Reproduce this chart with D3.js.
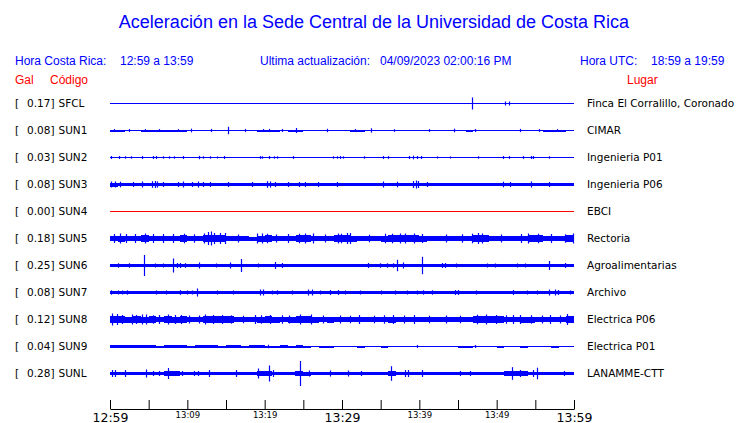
<!DOCTYPE html>
<html><head><meta charset="utf-8">
<script src="https://cdn.jsdelivr.net/npm/d3@7"></script>
<style>body{margin:0;background:#fff}svg{display:block}</style>
</head><body>
<svg id="c" width="740" height="423"></svg>
<script>
// ---------------- data ----------------
const codes = ["SFCL","SUN1","SUN2","SUN3","SUN4","SUN5","SUN6","SUN7","SUN8","SUN9","SUNL"];
const peakGal = [0.17,0.08,0.03,0.08,0.00,0.18,0.25,0.08,0.12,0.04,0.28];
const places = ["Finca El Corralillo, Coronado","CIMAR","Ingenieria P01","Ingenieria P06","EBCI","Rectoria","Agroalimentarias","Archivo","Electrica P06","Electrica P01","LANAMME-CTT"];
const tickMinutes = [0,5,10,15,20,25,30,35,40,45,50,55,60];
const tickLabels = ["12:59","","13:09","","13:19","","13:29","","13:39","","13:49","","13:59"];
const bigTicks = ["12:59","13:29","13:59"];

// envelope half-amplitude per minute (arbitrary units), one value per minute 12:59..13:59
const envSUN1 = [1.0,1.0,0.7,0.8,1.0,1.0,1.0,1.0,1.0,1.0,0.5,0.75,0.8,0.75,0.8,0.5,0.75,0.5,0.7,1.0,1.0,1.0,0.9,1.0,1.0,0.5,0.5,0.75,0.7,0.7,0.5,1.0,1.0,0.9,0.8,0.5,0.7,0.5,0.75,0.9,0.6,0.8,0.9,0.8,0.9,0.5,1.0,0.8,0.5,0.5,0.6,0.5,0.7,0.8,0.9,0.9,1.0,1.0,1.0,0.7];
const envSUN3 = [2.0,1.9,1.6,1.7,1.8,1.9,1.7,1.6,1.7,1.8,1.6,1.7,1.7,1.6,1.7,1.6,1.7,1.6,1.7,1.8,1.8,1.7,1.6,1.7,1.7,1.6,1.7,1.7,1.6,1.7,1.6,1.7,1.6,1.7,1.7,1.8,1.7,1.8,1.7,1.9,1.8,1.7,1.6,1.7,1.6,1.7,1.7,1.6,1.7,1.8,1.7,1.6,1.7,1.7,1.8,1.7,1.7,1.6,1.7,1.8];
const envSUN5 = [2.9,3.0,2.7,2.9,3.2,2.8,2.9,2.7,2.9,3.1,2.8,2.7,3.6,3.8,3.2,2.7,2.5,2.1,2.0,3.0,3.2,2.7,2.4,2.5,3.2,3.4,2.9,2.4,2.6,3.2,3.3,3.0,2.6,2.3,2.4,3.0,3.2,3.3,3.2,3.3,3.0,2.6,2.5,2.6,2.5,2.7,2.9,3.4,3.2,2.6,2.5,2.6,2.5,2.9,3.2,3.2,2.7,2.3,2.4,3.2];
const envSUN6 = [1.6,1.5,1.5,1.4,1.6,1.5,1.4,1.5,1.6,1.5,1.5,1.6,1.5,1.4,1.5,1.5,1.4,1.5,1.5,1.4,1.5,1.6,1.5,1.4,1.5,1.4,1.5,1.5,1.4,1.5,1.5,1.4,1.5,1.6,1.7,1.6,1.5,1.6,1.5,1.4,1.5,1.6,1.5,1.6,1.5,1.4,1.5,1.5,1.4,1.5,1.5,1.4,1.5,1.5,1.6,1.5,1.6,1.6,1.5,1.6];
const envSUN7 = [1.6,1.5,1.6,1.5,1.4,1.5,1.5,1.6,1.5,1.6,1.5,1.5,1.4,1.5,1.5,1.4,1.5,1.4,1.5,1.6,1.6,1.5,1.4,1.5,1.4,1.6,1.6,1.5,1.5,1.6,1.5,1.4,1.5,1.4,1.5,1.5,1.4,1.5,1.5,1.4,1.6,1.6,1.5,1.4,1.6,1.6,1.5,1.5,1.4,1.5,1.5,1.4,1.6,1.5,1.5,1.5,1.6,1.6,1.5,1.5];
const envSUN8 = [3.9,3.7,3.0,3.3,3.0,3.2,2.9,3.1,3.0,3.3,2.8,2.7,3.3,3.4,3.1,3.3,2.7,2.5,2.8,3.0,3.1,3.0,2.9,3.0,3.2,3.4,3.0,2.8,3.0,2.8,2.7,2.6,2.7,2.7,2.6,2.9,3.0,2.8,2.9,2.7,2.7,2.8,2.7,2.7,2.8,2.7,2.9,3.4,3.5,3.3,3.2,2.9,2.8,3.0,3.0,2.9,2.8,2.7,2.8,3.5];
const envSUN9 = [1.2,1.2,1.1,1.1,1.2,1.1,1.0,1.1,1.2,1.1,1.0,1.1,1.1,1.2,1.0,1.1,1.1,1.0,1.1,1.1,1.0,1.0,1.1,1.0,1.1,1.0,0.9,1.0,1.0,0.9,0.8,0.9,1.0,0.8,0.9,1.0,0.8,0.9,0.8,0.9,0.8,0.7,0.9,0.8,0.9,1.0,1.0,0.8,0.7,0.9,1.0,0.8,0.7,1.0,0.9,0.7,0.9,1.0,0.7,0.8];
const envSUNL = [1.8,1.7,1.8,1.7,1.8,1.7,1.8,2.4,2.3,1.8,1.7,1.8,1.8,1.7,1.7,1.8,1.7,1.7,1.8,2.2,2.1,1.8,1.7,1.8,2.2,2.0,1.7,1.8,1.7,1.8,1.7,1.8,1.7,1.7,1.8,1.8,2.2,1.8,1.7,1.8,1.7,1.8,1.7,1.7,1.8,1.8,1.8,1.7,1.7,1.8,1.7,2.2,2.3,2.1,1.8,1.8,1.7,1.7,1.8,1.8];

// spikes: [minute, half-amplitude]
const spkSFCL = [[46.8,6],[51.1,2],[51.6,2]];
const spkSUN1 = [[15.2,3.7],[24.1,2.5],[33.8,2.2],[10.5,1.8],[17.5,1.6],[13,1.6],[28,1.7],[44.5,1.8],[53,1.6],[2.5,1.5],[20.5,1.6],[0.5,1.5],[4.5,1.5],[6.3,1.4],[8.8,1.4],[19.8,1.5],[22.2,1.5],[31.7,1.5],[36.7,1.3],[41.2,1.4],[47.2,1.5],[55.5,1.4],[57.8,1.4]];
const spkSUN2 = [[0.1,1.5],[1.2,1.5],[1.9,1.2],[2.7,1.2],[4.1,1.5],[5.6,1.5],[5.9,1.5],[6.9,1.2],[7.6,1.2],[8.3,1.2],[9.4,1.5],[11.5,1.7],[12,1.2],[12.9,1.2],[13.8,1],[14.7,1.5],[19.4,1.4],[19.7,1.2],[20.6,1.5],[21.2,1.2],[21.6,1.2],[23.7,1.4],[28.8,1.2],[29.4,1.2],[29.7,1.4],[30.1,1.2],[32.8,1.2],[35.3,1.5],[35.9,1.4],[38.6,1.5],[39.2,1.8],[39.7,1.5],[40.2,1.5],[42.3,1],[44,1],[47.6,1.2],[50.8,1.5],[51.6,1.4],[53.4,1.4],[54.4,1.5],[54.7,1.5],[56.8,1.2]];
const spkSUN3 = [[0.1,3],[0.6,3],[1.3,2.8],[3,2.5],[4.1,3],[5.4,3.3],[5.8,3.5],[6.1,3],[6.9,2.5],[8.8,2.5],[9.4,3],[10.6,2.5],[11.4,3],[12,2.5],[12.9,2.5],[15.3,2.5],[18.4,2.5],[20.3,3.3],[20.7,3],[21.3,2.5],[23,2.5],[24.4,2.5],[25.2,2.5],[26.9,2.5],[29.4,2.5],[35.3,3],[37.1,2.8],[39.2,3.5],[39.6,4],[39.8,3.5],[41,2.5],[50.8,2.8],[51.7,2.5],[54.4,3],[56.8,2.5]];
const spkSUN4 = [];
const spkSUN5 = [[1.3,5],[2.1,4.5],[4.5,5],[12.7,6.5],[13.1,7],[13.4,5.5],[14.9,5.5],[19,5],[19.7,5],[23,4.5],[25.2,5],[26.3,5],[29.5,5],[30.6,5.5],[31,5.5],[37.5,5],[39.3,5],[47.6,5.5],[48.1,5],[54.1,5],[57,4.5],[59.9,5],[0.5,4.5],[3.2,4.5],[5.5,4.5],[6.8,4.5],[8.2,4.5],[9.6,4.8],[10.8,4.2],[12.2,5],[14.2,5.5],[16.5,4],[20.3,4.8],[21.5,4],[24.4,4.8],[27.8,4],[29.9,4.8],[33.5,3.8],[35.5,4.8],[36.5,4.8],[38.2,5],[40.4,4.5],[43.5,4],[45.5,4.2],[46.8,4.8],[50.5,4],[53.2,4.5],[55.3,4.8],[58.8,4.2]];
const spkSUN6 = [[4.4,10.5],[8.2,7],[17,6.5],[21.3,3.5],[11.5,3],[15.5,3],[1,2.2],[2.4,2.2],[5.8,2],[6.9,2],[8.6,2.5],[9.1,2.5],[9.7,2.3],[13.7,2],[19.2,2],[22.2,2.5],[33.4,2.5],[34.9,2.2],[35.8,2.2],[36.6,2.2],[37.1,5.7],[37.9,3],[40.4,8.7],[42.9,2.5],[43.3,2.5],[44.8,2],[48.7,2],[49.8,2],[52.6,2],[53.7,2],[56.8,4.5],[58.8,2.5]];
const spkSUN7 = [[11.2,4],[19.4,3],[19.8,3],[25.6,3],[26.1,3],[28.5,2.5],[29.5,2.5],[0.1,2.2],[1,2],[1.5,2],[2.2,2.2],[6,2],[7.3,2],[9,2.3],[9.9,2],[10.6,2],[13.8,2],[15.9,2],[21,2],[21.6,2.2],[23.5,2],[27.2,2],[30.4,2],[32.3,2],[35.1,2],[36.9,2],[38.4,2],[39.7,2],[40.5,2.2],[41.6,2.2],[44.6,2.5],[45,2.5],[47.3,2],[52.1,2.5],[53.9,2],[55.2,2],[56.8,3],[57.5,3],[57.9,2.5],[59.5,2]];
const spkSUN8 = [[0.3,6],[0.9,5.5],[2.8,5],[4.1,5],[4.7,5],[7.5,5],[8.4,4.5],[12.3,5],[13.3,4.5],[18.8,4.5],[20.7,4.5],[24.6,5],[26,5],[32.2,4.5],[36.6,4.5],[39.3,4.5],[48.6,5],[49.9,4.5],[52.1,4.5],[53,4.5],[56.9,4.5],[59.1,5.5],[1.6,4.5],[3.4,4.5],[5.6,4.2],[6.4,4.5],[9.2,4.5],[10.2,4],[11.5,4],[14.5,4.5],[15.6,4.2],[17.2,3.8],[19.5,4.2],[22.3,4.2],[23.2,4],[27.5,4],[29.8,4],[31,3.8],[34.2,3.8],[35.4,4.2],[38,4],[41.2,3.8],[43.5,4],[45.3,3.8],[47.4,4.8],[51.2,4.2],[54.5,4.2],[55.8,4],[58.2,4]];
const spkSUN9 = [[20.4,1.8],[24.3,1.5],[5.2,1.5],[39.7,1.5],[47.2,1.5]];
const spkSUNL = [[24.6,12.5],[20.5,8],[7.5,5.5],[4.7,4],[19.1,5],[0.2,3.5],[0.7,3.5],[1.9,3.5],[5.6,2.5],[6.3,2.5],[9.3,2.5],[10.8,2.5],[11.4,2.5],[12.8,3.5],[16.3,3.5],[21.1,3.5],[23.9,2.5],[25.7,3],[28.4,3],[30.8,3],[32.5,2.5],[36.3,7.3],[38.1,3.5],[38.5,3.5],[40.3,3.5],[45.3,2.5],[46.6,2.5],[52,6.3],[53,3.5],[54.7,3.5],[55.2,5.8],[58.7,2.5]];

const envelopes = {SUN1:envSUN1,SUN3:envSUN3,SUN5:envSUN5,SUN6:envSUN6,SUN7:envSUN7,SUN8:envSUN8,SUN9:envSUN9,SUNL:envSUNL};
const spikes = {SFCL:spkSFCL,SUN1:spkSUN1,SUN2:spkSUN2,SUN3:spkSUN3,SUN4:spkSUN4,SUN5:spkSUN5,SUN6:spkSUN6,SUN7:spkSUN7,SUN8:spkSUN8,SUN9:spkSUN9,SUNL:spkSUNL};

// ---------------- drawing ----------------
const BLUE = "#0000ff", RED = "#ff0000";
const svg = d3.select("#c");
const sans = "'Liberation Sans', Arial, Helvetica, sans-serif";
const dv = "'DejaVu Sans', sans-serif";

const x = d3.scaleLinear().domain([0,60]).range([110,574]);
const row = d3.scalePoint().domain(codes).range([103,373]);
const amp = d3.scaleLinear().domain([0,10]).range([0,10]);

// title & header
svg.append("text").attr("x",374).attr("y",28).attr("text-anchor","middle")
  .attr("fill",BLUE).style("font-family",sans).style("font-size","18px")
  .text("Aceleración en la Sede Central de la Universidad de Costa Rica");
const hdr = [[15,"Hora Costa Rica:"],[120,"12:59 a 13:59"],[260,"Ultima actualización:"],[380,"04/09/2023 02:00:16 PM"],[580,"Hora UTC:"],[651,"18:59 a 19:59"]];
svg.selectAll("text.hdr").data(hdr).join("text").attr("class","hdr")
  .attr("x",d=>d[0]).attr("y",65).attr("fill",BLUE)
  .style("font-family",sans).style("font-size","12px").text(d=>d[1]);
const hdr2 = [[15,"Gal"],[50,"Código"],[627,"Lugar"]];
svg.selectAll("text.hdr2").data(hdr2).join("text").attr("class","hdr2")
  .attr("x",d=>d[0]).attr("y",84).attr("fill",RED)
  .style("font-family",sans).style("font-size","12px").text(d=>d[1]);

// rows
const rows = svg.selectAll("g.row").data(codes).join("g").attr("class","row")
  .attr("transform",d=>`translate(0,${row(d)})`);

rows.append("text").attr("x",15).attr("y",4).style("font-family",dv).style("font-size","10.5px").text("[");
rows.append("text").attr("x",54.5).attr("y",4).attr("text-anchor","end").style("font-family",dv).style("font-size","10.5px")
  .text((d,i)=>d3.format(".2f")(peakGal[i])+"]");
rows.append("text").attr("x",58.5).attr("y",4).style("font-family",dv).style("font-size","10.5px").text(d=>d);
rows.append("text").attr("x",587).attr("y",4).style("font-family",dv).style("font-size","10.5px").text((d,i)=>places[i]);

// baseline
rows.append("line").attr("x1",x(0)).attr("x2",x(60)).attr("y1",0.5).attr("y2",0.5)
  .attr("stroke",d=>d==="SUN4"?RED:BLUE).attr("stroke-width",d=>d==="SUN2"?1.2:1);

// envelopes
rows.each(function(code){
  const env = envelopes[code];
  const g = d3.select(this);
  if(env){
    g.selectAll("rect.env").data(env).join("rect").attr("class","env")
      .attr("x",(v,i)=>x(i)).attr("width",(v,i)=>x(i+1)-x(i))
      .attr("y",v=>0.5-amp(v)).attr("height",v=>2*amp(v))
      .attr("fill",BLUE).attr("shape-rendering","crispEdges");
  }
  g.selectAll("line.spk").data(spikes[code]).join("line").attr("class","spk")
    .attr("x1",d=>Math.round(x(d[0]))+0.5).attr("x2",d=>Math.round(x(d[0]))+0.5)
    .attr("y1",d=>0.5-amp(d[1])).attr("y2",d=>0.5+amp(d[1]))
    .attr("stroke",BLUE).attr("stroke-width",1.2);
});

// axis
const axis = d3.axisBottom(x).tickValues(tickMinutes).tickSize(-9).tickSizeOuter(0)
  .tickFormat((d,i)=>tickLabels[i]);
const ga = svg.append("g").attr("transform","translate(0,409)").call(axis);
ga.select(".domain").attr("stroke","#000");
ga.selectAll(".tick line").attr("stroke","#000");
ga.selectAll(".tick text").attr("fill","#000").attr("dy",null)
  .style("font-family",dv)
  .attr("y",(d,i)=>bigTicks.includes(tickLabels[i])?12.5:9)
  .style("font-size",(d,i)=>bigTicks.includes(tickLabels[i])?"12.5px":"8.5px");
</script>
</body></html>
